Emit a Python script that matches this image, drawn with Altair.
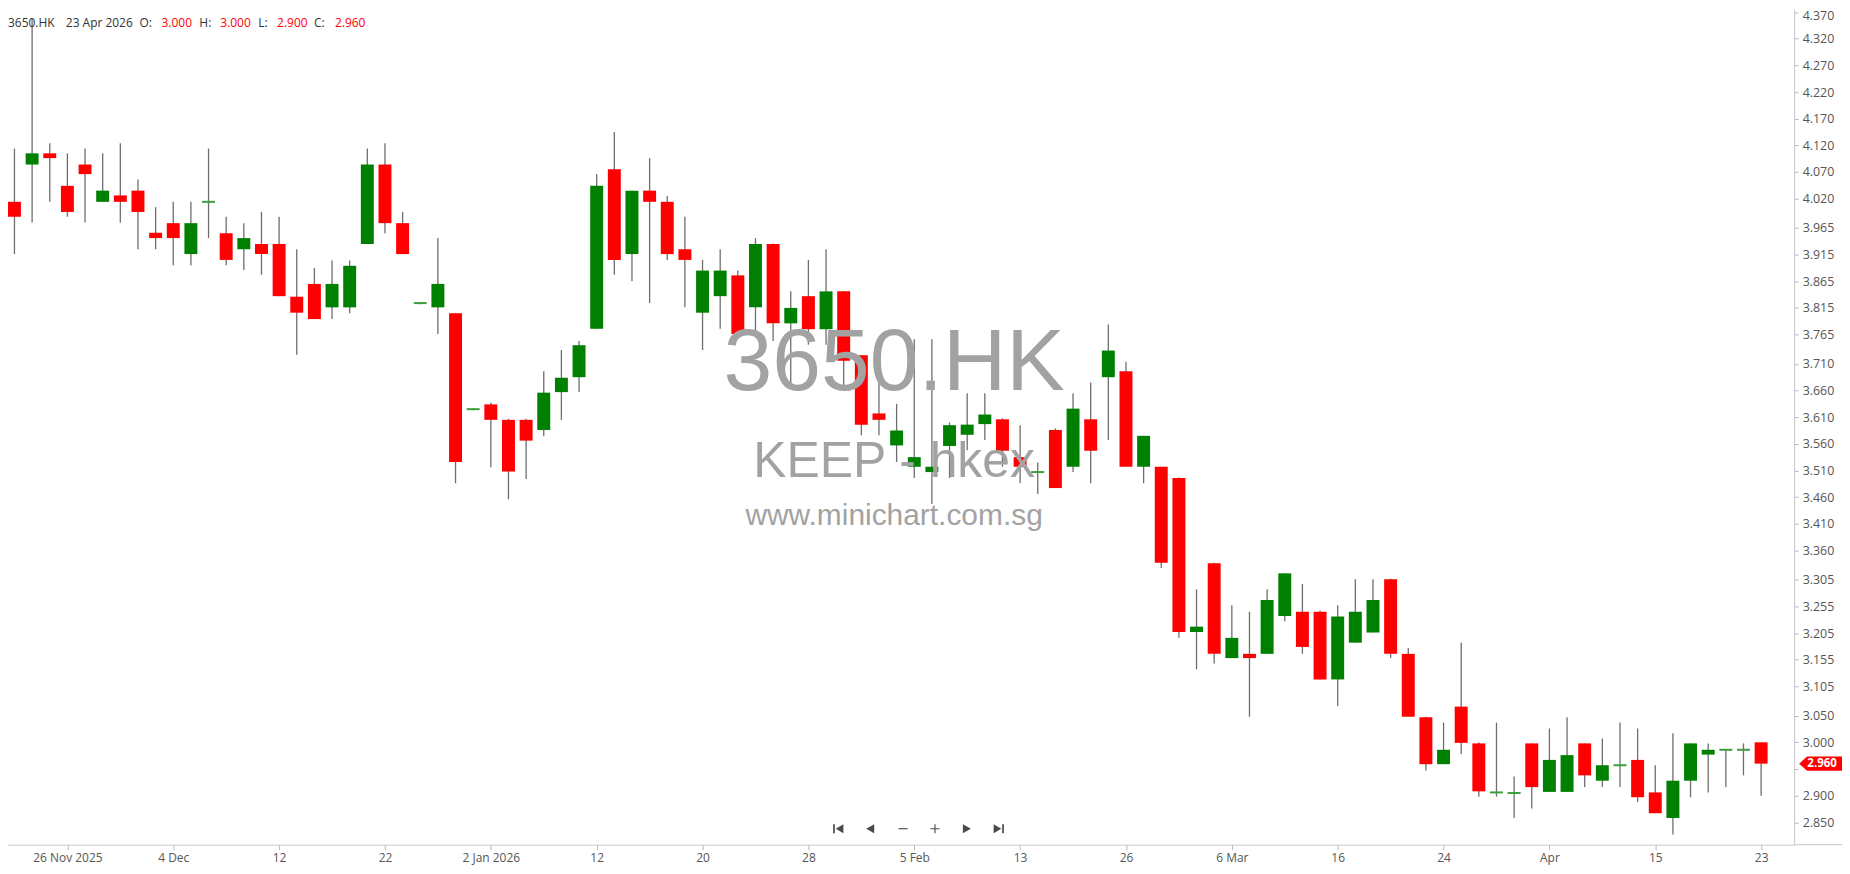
import json
import altair as alt
import pandas as pd

# ---------------- data ----------------
symbol = "3650.HK"
last_date = "23 Apr 2026"
watermark_lines = ["3650.HK", "KEEP - hkex", "www.minichart.com.sg"]

opens = [4.014, 4.084, 4.105, 4.044, 4.084, 4.014, 4.026, 4.035, 3.956, 3.974,
         3.916, 4.014, 3.955, 3.925, 3.935, 3.935, 3.836, 3.860, 3.816, 3.816,
         3.935, 4.084, 3.974, 3.824, 3.816, 3.805, 3.625, 3.634, 3.605, 3.605,
         3.586, 3.657, 3.685, 3.776, 4.075, 3.916, 4.035, 4.014, 3.925, 3.806,
         3.837, 3.876, 3.816, 3.935, 3.786, 3.837, 3.775, 3.846, 3.726, 3.617,
         3.557, 3.517, 3.507, 3.556, 3.577, 3.597, 3.606, 3.535, 3.507, 3.586,
         3.517, 3.606, 3.685, 3.696, 3.517, 3.517, 3.496, 3.207, 3.336, 3.158,
         3.166, 3.166, 3.237, 3.245, 3.245, 3.118, 3.187, 3.206, 3.306, 3.166,
         3.047, 2.959, 3.067, 2.998, 2.906, 2.905, 2.998, 2.907, 2.907, 2.998,
         2.928, 2.957, 2.967, 2.906, 2.858, 2.928, 2.977, 2.986, 2.986, 3.000]

highs = [4.114, 4.358, 4.124, 4.105, 4.114, 4.105, 4.124, 4.056, 4.004, 4.014,
         4.014, 4.114, 3.986, 3.974, 3.995, 3.986, 3.925, 3.890, 3.904, 3.904,
         4.114, 4.124, 3.995, 3.826, 3.946, 3.805, 3.627, 3.637, 3.607, 3.607,
         3.696, 3.736, 3.753, 4.066, 4.145, 4.035, 4.096, 4.025, 3.986, 3.905,
         3.925, 3.885, 3.946, 3.936, 3.846, 3.905, 3.925, 3.846, 3.726, 3.703,
         3.635, 3.756, 3.756, 3.600, 3.655, 3.655, 3.608, 3.595, 3.525, 3.589,
         3.655, 3.675, 3.784, 3.714, 3.575, 3.517, 3.497, 3.287, 3.337, 3.257,
         3.245, 3.287, 3.317, 3.297, 3.247, 3.257, 3.306, 3.306, 3.307, 3.177,
         3.048, 3.037, 3.187, 3.000, 3.037, 2.936, 2.998, 3.026, 3.047, 2.998,
         3.007, 3.037, 3.026, 2.957, 3.017, 2.998, 2.998, 2.987, 2.998, 3.000]

lows = [3.916, 3.975, 4.014, 3.986, 3.975, 4.014, 3.975, 3.925, 3.925, 3.895,
        3.895, 3.946, 3.895, 3.886, 3.877, 3.837, 3.727, 3.794, 3.794, 3.805,
        3.935, 3.955, 3.916, 3.822, 3.766, 3.486, 3.623, 3.516, 3.456, 3.494,
        3.574, 3.605, 3.657, 3.776, 3.877, 3.865, 3.824, 3.905, 3.816, 3.736,
        3.776, 3.766, 3.766, 3.753, 3.666, 3.746, 3.746, 3.666, 3.576, 3.576,
        3.526, 3.496, 3.447, 3.496, 3.548, 3.567, 3.517, 3.486, 3.466, 3.477,
        3.507, 3.486, 3.567, 3.517, 3.486, 3.327, 3.196, 3.137, 3.148, 3.158,
        3.048, 3.166, 3.227, 3.166, 3.118, 3.068, 3.187, 3.206, 3.158, 3.048,
        2.947, 2.959, 2.978, 2.898, 2.898, 2.858, 2.876, 2.907, 2.907, 2.916,
        2.916, 2.916, 2.888, 2.867, 2.827, 2.897, 2.906, 2.916, 2.938, 2.900]

closes = [3.986, 4.105, 4.096, 3.995, 4.066, 4.035, 4.014, 3.995, 3.946, 3.946,
          3.974, 4.014, 3.905, 3.946, 3.916, 3.837, 3.806, 3.794, 3.860, 3.894,
          4.084, 3.974, 3.916, 3.824, 3.860, 3.526, 3.625, 3.605, 3.508, 3.566,
          3.656, 3.684, 3.745, 4.044, 3.905, 4.035, 4.014, 3.916, 3.905, 3.885,
          3.885, 3.766, 3.935, 3.786, 3.815, 3.775, 3.846, 3.716, 3.596, 3.605,
          3.585, 3.535, 3.517, 3.595, 3.596, 3.615, 3.547, 3.517, 3.507, 3.477,
          3.626, 3.547, 3.735, 3.517, 3.575, 3.337, 3.207, 3.217, 3.166, 3.196,
          3.158, 3.267, 3.317, 3.179, 3.118, 3.236, 3.245, 3.267, 3.166, 3.048,
          2.959, 2.986, 2.999, 2.908, 2.906, 2.905, 2.916, 2.967, 2.976, 2.938,
          2.957, 2.957, 2.897, 2.867, 2.928, 2.998, 2.986, 2.986, 2.986, 2.960]

x_tick_idx = [3, 9, 15, 21, 27, 33, 39, 45, 51, 57, 63, 69, 75, 81, 87, 93, 99]
x_tick_labels = ["26 Nov 2025", "4 Dec", "12", "22", "2 Jan 2026", "12", "20", "28",
                 "5 Feb", "13", "26", "6 Mar", "16", "24", "Apr", "15", "23"]
y_tick_values = [2.850, 2.900, 2.950, 3.000, 3.050, 3.105, 3.155, 3.205, 3.255, 3.305,
                 3.360, 3.410, 3.460, 3.510, 3.560, 3.610, 3.660, 3.710, 3.765, 3.815,
                 3.865, 3.915, 3.965, 4.020, 4.070, 4.120, 4.170, 4.220, 4.270, 4.320, 4.370]

df = pd.DataFrame({"idx": list(range(len(opens))), "open": opens, "high": highs,
                   "low": lows, "close": closes})

# ---------------- layout ----------------
W, H = 1792, 838
x_scale = alt.Scale(domain=[-0.084, 100.59], nice=False, zero=False)
y_scale = alt.Scale(domain=[2.808, 4.375], nice=False, zero=False)

last_close = closes[-1]
label_expr = json.dumps(x_tick_labels) + "[round((datum.value - 3) / 6)]"
# the label nearest the last-price tag is hidden beneath it
y_label_expr = f"abs(datum.value - {last_close}) < 0.02 ? '' : format(datum.value, '.3f')"

x_axis = alt.Axis(values=x_tick_idx, labelExpr=label_expr, title=None, grid=False,
                  domainColor="#c8c8c8", tickColor="#b8b8b8", tickSize=5,
                  labelColor="#555555", labelFont="Open Sans", labelFontSize=12,
                  labelPadding=3, labelFlush=False, labelOverlap=False)
y_axis = alt.Axis(orient="right", values=y_tick_values, labelExpr=y_label_expr, title=None,
                  grid=False, domainColor="#c8c8c8", tickColor="#b8b8b8", tickSize=4,
                  labelColor="#555555", labelFont="Open Sans", labelFontSize=12.5,
                  labelPadding=4, labelOverlap=False, labelFlush=False,
                  labelOffset={"condition": {"test": "datum.value > 4.36", "value": 3},
                               "value": 0})


def X():
    return alt.X("idx:Q", scale=x_scale, axis=x_axis)


def Y(field):
    return alt.Y(f"{field}:Q", scale=y_scale, axis=y_axis)


base = alt.Chart(df)

wicks = base.mark_rule(color="#6e6e6e", strokeWidth=1.3).encode(
    x=X(), y=Y("low"), y2="high")

bodies = base.transform_filter("datum.open != datum.close").mark_bar(size=13).encode(
    x=X(), y=Y("open"), y2="close",
    color=alt.condition("datum.close > datum.open", alt.value("#008000"), alt.value("#ff0000")))

dojis = base.transform_filter("datum.open == datum.close").mark_tick(
    orient="horizontal", size=13, thickness=2, color="#3c9e3c", opacity=1).encode(
    x=X(), y=Y("close"))

one = pd.DataFrame({"k": [0]})

# watermark
wm_sizes = [88, 50, 30]
wm_y = [356, 454, 508]
wm_layers = []
for txt, fs, yy in zip(watermark_lines, wm_sizes, wm_y):
    wm_layers.append(
        alt.Chart(pd.DataFrame({"t": [txt]})).mark_text(
            font="Liberation Sans", fontSize=fs, color="#a2a2a2", align="center",
            baseline="middle").encode(x=alt.value(889), y=alt.value(yy), text="t:N"))

# header
header_texts = [symbol, last_date, "O:", f"{opens[-1]:.3f}", "H:", f"{highs[-1]:.3f}",
                "L:", f"{lows[-1]:.3f}", "C:", f"{closes[-1]:.3f}"]
header_x = [0, 58, 132, 154, 192, 213, 251, 270, 307, 328]
header_col = ["#333333", "#333333", "#333333", "#ff0000", "#333333", "#ff0000",
              "#333333", "#ff0000", "#333333", "#ff0000"]
header_layers = []
for txt, hx, hc in zip(header_texts, header_x, header_col):
    header_layers.append(
        alt.Chart(pd.DataFrame({"t": [txt]})).mark_text(
            font="Open Sans", fontSize=12, color=hc, align="left",
            baseline="middle").encode(x=alt.value(hx), y=alt.value(14), text="t:N"))

# navigation buttons
nav_paths = [
    "M -0.9 -0.8 L -0.6 -0.8 L -0.6 0.8 L -0.9 0.8 Z M 0.9 -0.8 L -0.45 0 L 0.9 0.8 Z",
    "M 0.7 -0.8 L -0.7 0 L 0.7 0.8 Z",
    "M -0.8 -0.1 L 0.8 -0.1 L 0.8 0.1 L -0.8 0.1 Z",
    "M -0.8 -0.1 L 0.8 -0.1 L 0.8 0.1 L -0.8 0.1 Z M -0.1 -0.8 L 0.1 -0.8 L 0.1 0.8 L -0.1 0.8 Z",
    "M -0.7 -0.8 L 0.7 0 L -0.7 0.8 Z",
    "M 0.9 -0.8 L 0.6 -0.8 L 0.6 0.8 L 0.9 0.8 Z M -0.9 -0.8 L 0.45 0 L -0.9 0.8 Z",
]
nav_x = [833, 865, 898, 930, 962, 994]
nav_layers = []
for p, nx in zip(nav_paths, nav_x):
    nav_layers.append(
        alt.Chart(one).mark_point(shape=p, size=130, filled=True, color="#4a4a4a",
                                  opacity=1, strokeWidth=0).encode(
            x=alt.value(nx), y=alt.value(822)))

# last price tag
tag_df = pd.DataFrame({"close": [last_close], "label": [f"{last_close:.3f}"]})
TAG_PATH = "M -1 0 L -0.63 -0.33 L 1 -0.33 L 1 0.33 L -0.63 0.33 Z"
tag = alt.Chart(tag_df).mark_point(shape=TAG_PATH, size=1849, filled=True, color="#ff0000",
                                   opacity=1, strokeWidth=0).encode(
    x=alt.value(1818.5), y=Y("close"))
tag_text = alt.Chart(tag_df).mark_text(color="white", font="Open Sans", fontSize=11.5,
                                       fontWeight="bold", align="center",
                                       baseline="middle").encode(
    x=alt.value(1820), y=Y("close"), text="label:N")

axis_ext = alt.Chart(one).mark_rule(color="#c8c8c8", strokeWidth=1).encode(
    x=alt.value(W), x2=alt.value(W + 48), y=alt.value(H))

chart = alt.layer(
    wicks, bodies, dojis, *wm_layers, *header_layers, *nav_layers, tag, tag_text, axis_ext
).properties(
    width=W, height=H,
    autosize=alt.AutoSizeParams(type="none"),
    padding={"left": 0, "top": 0, "right": 48, "bottom": 20},
).configure_view(stroke=None)

chart.save("out.html", embed_options={"renderer": "svg", "actions": False})
